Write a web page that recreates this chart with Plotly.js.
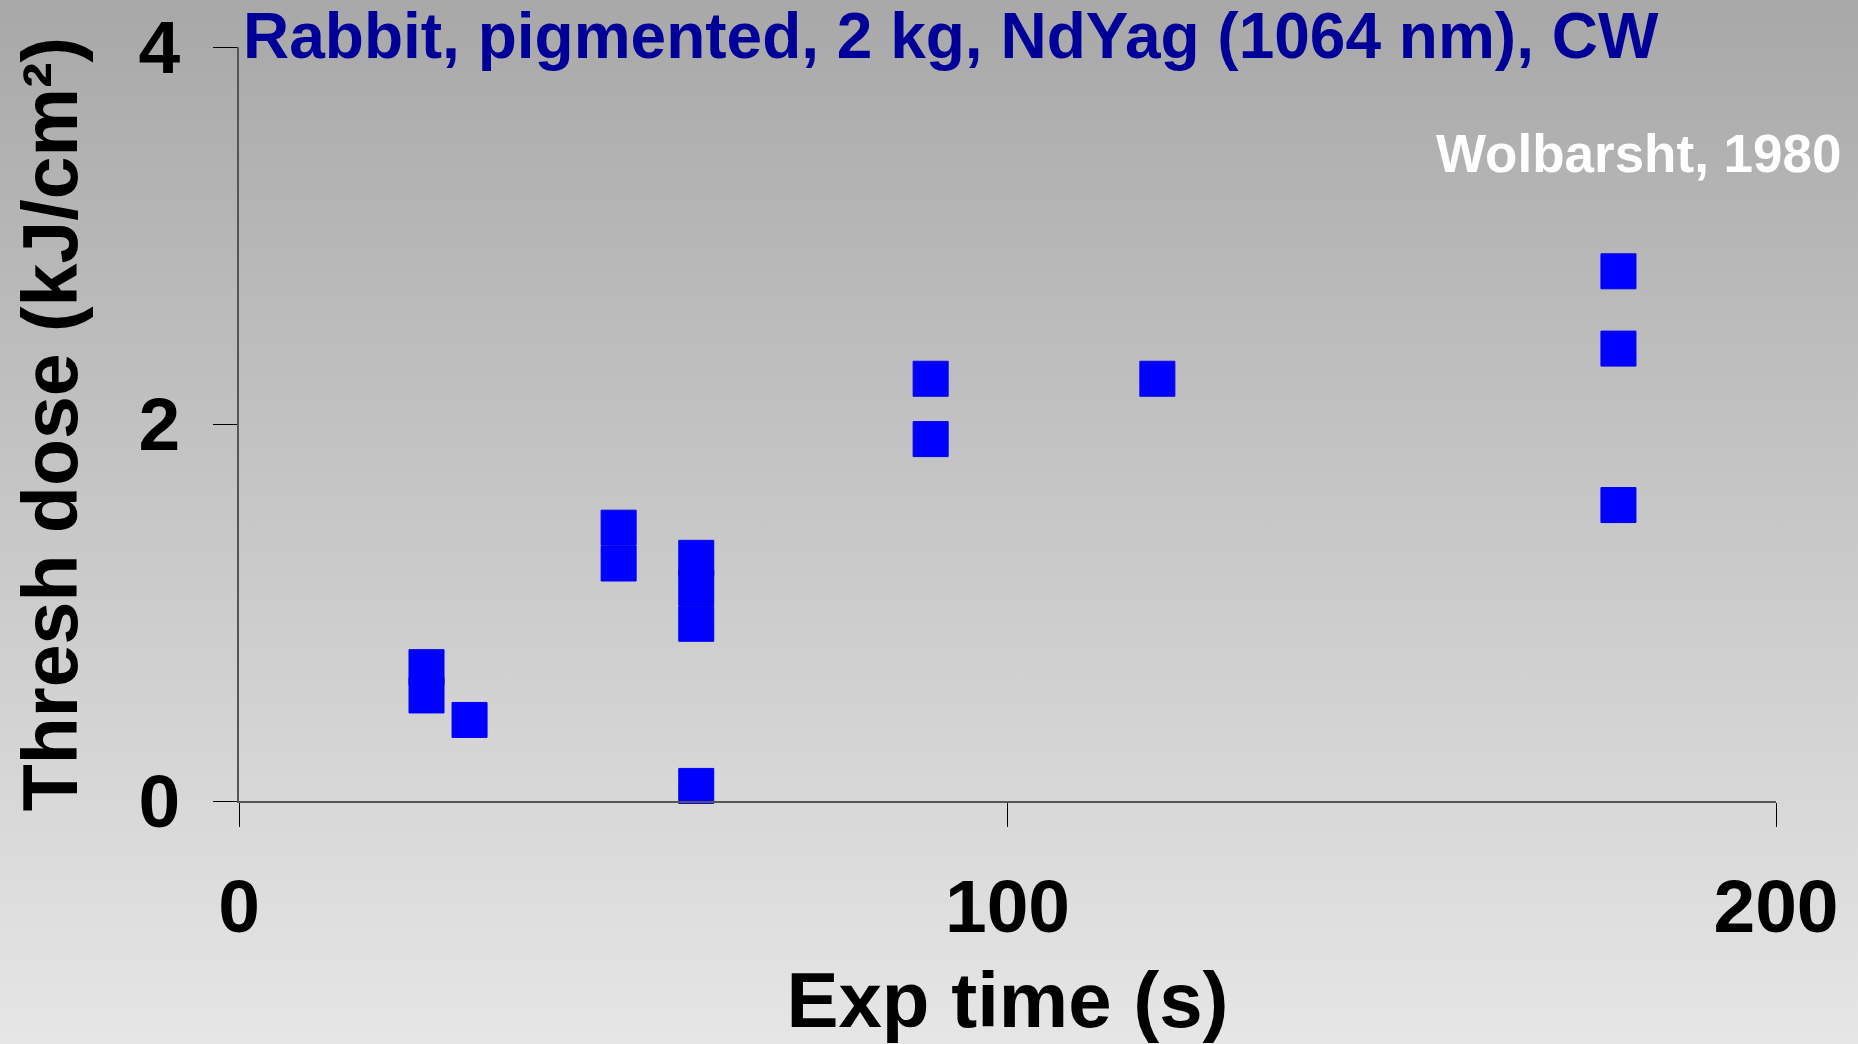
<!DOCTYPE html>
<html>
<head>
<meta charset="utf-8">
<script src="https://cdn.plot.ly/plotly-3.0.1.min.js"></script>
<style>
  html, body { margin: 0; padding: 0; }
  body { width: 1858px; height: 1044px; background: linear-gradient(to bottom, #a8a8a8 0%, #c6c6c6 48%, #e6e6e6 100%); }
  #chart { width: 1858px; height: 1044px; }
</style>
</head>
<body>
<div id="chart"></div>
<script>
// Exposure time (s)
const expTime = [24.4, 24.4, 30, 49.4, 49.4, 59.5, 59.5, 59.5, 59.5, 90, 90, 119.5, 179.5, 179.5, 179.5];
// Threshold dose (kJ/cm²)
const threshDose = [0.71, 0.56, 0.43, 1.45, 1.26, 1.29, 1.13, 0.94, 0.08, 2.24, 1.92, 2.24, 2.81, 2.40, 1.57];

const xTicks = [0, 100, 200];
const yTicks = [0, 2, 4];

const titleText = "Rabbit, pigmented, 2 kg, NdYag (1064 nm), CW";
const sourceText = "Wolbarsht, 1980";
const xTitle = "Exp time (s)";
const yTitle = "Thresh dose (kJ/cm²)";

const FONT = "Liberation Sans, Arial, sans-serif";

const trace = {
  type: "scatter",
  mode: "markers",
  x: expTime,
  y: threshDose,
  marker: { symbol: "square", size: 35, color: "#0000ff", line: { width: 1, color: "#0000ee" } },
  cliponaxis: false,
  hoverinfo: "x+y"
};

const layout = {
  width: 1858,
  height: 1044,
  paper_bgcolor: "rgba(0,0,0,0)",
  plot_bgcolor: "rgba(0,0,0,0)",
  showlegend: false,
  margin: { l: 239.4, r: 82.3, t: 46.7, b: 243.3, autoexpand: false },
  title: {
    text: titleText,
    font: { family: FONT, size: 64, color: "#000099", weight: "bold" },
    xref: "container", yref: "container",
    x: 243 / 1858, xanchor: "left",
    y: 1 - 36 / 1044, yanchor: "middle"
  },
  xaxis: {
    range: [0, 200],
    tickvals: xTicks,
    ticktext: xTicks.map(String),
    showgrid: false,
    zeroline: false,
    showline: true,
    linecolor: "#555555",
    linewidth: 1.5,
    ticks: "outside",
    ticklen: 24,
    tickwidth: 1,
    tickcolor: "#000000",
    ticklabelstandoff: 15,
    tickfont: { family: FONT, size: 75, color: "#000000", weight: "bold" },
    automargin: false,
    title: {
      text: xTitle,
      font: { family: FONT, size: 78, color: "#000000", weight: "bold" },
      standoff: 43
    }
  },
  yaxis: {
    range: [0, 4],
    tickvals: yTicks,
    ticktext: yTicks.map(String),
    showgrid: false,
    zeroline: false,
    showline: true,
    linecolor: "#555555",
    linewidth: 1.5,
    ticks: "outside",
    ticklen: 24,
    tickwidth: 1,
    tickcolor: "#000000",
    ticklabelstandoff: 18,
    tickfont: { family: FONT, size: 75, color: "#000000", weight: "bold" },
    automargin: false,
    title: {
      text: yTitle,
      font: { family: FONT, size: 77, color: "#000000", weight: "bold" },
      standoff: 36
    }
  },
  annotations: [{
    text: sourceText,
    xref: "paper", yref: "paper",
    x: (1844 - 239.4) / (1775.7 - 239.4), xanchor: "right",
    y: (800.7 - 153) / 754, yanchor: "middle",
    showarrow: false,
    font: { family: FONT, size: 53, color: "#ffffff", weight: "bold" }
  }]
};

Plotly.newPlot("chart", [trace], layout, { displayModeBar: false });
</script>
</body>
</html>
